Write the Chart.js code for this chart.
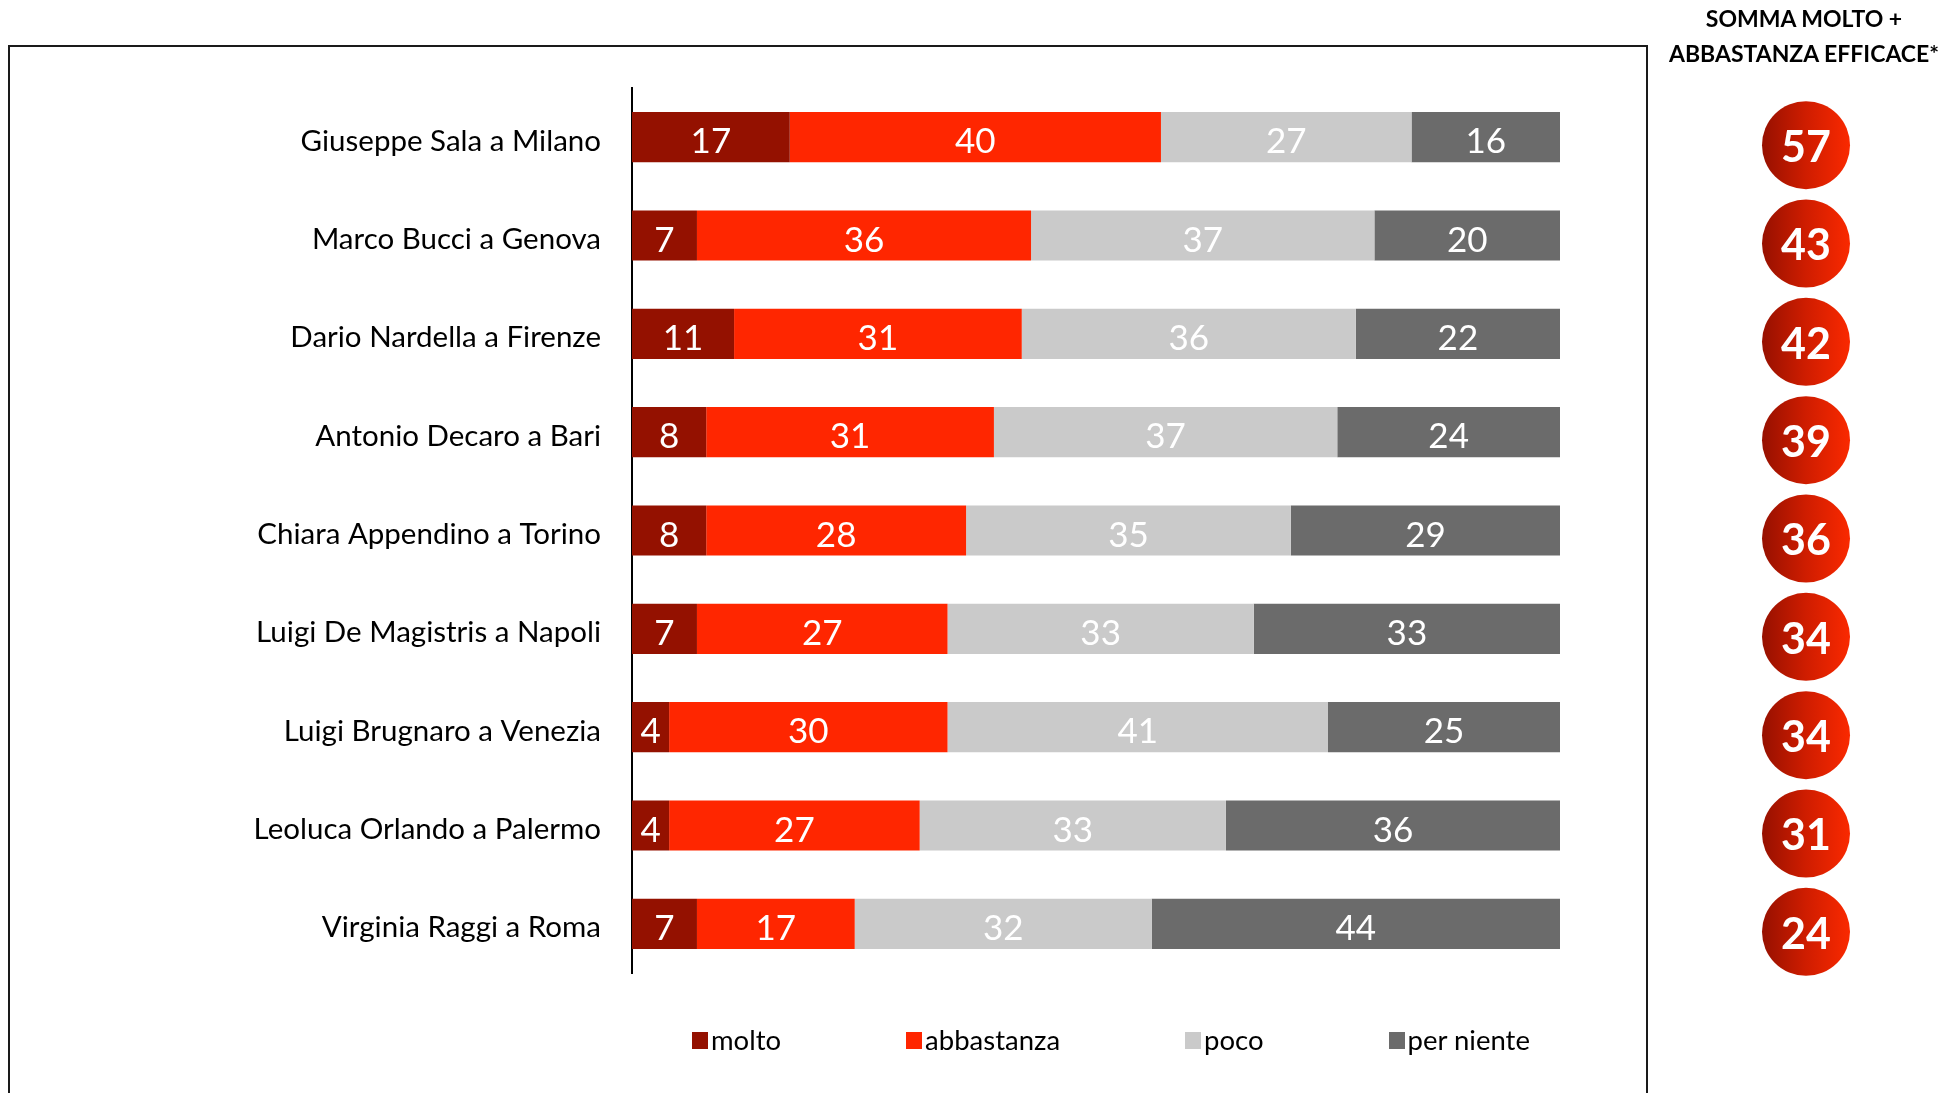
<!DOCTYPE html>
<html lang="it">
<head>
<meta charset="utf-8">
<title>Efficacia dei sindaci</title>
<script src="https://cdn.jsdelivr.net/npm/chart.js@4.4.1/dist/chart.umd.min.js"></script>
<style>
  html, body { margin: 0; padding: 0; background: #fff; }
  body { width: 1951px; height: 1093px; position: relative; overflow: hidden; font-family: Lato, "Open Sans", sans-serif; }
  #frame { position: absolute; left: 8px; top: 45px; width: 1636px; height: 1100px; border: 2px solid #1a1a1a; }
  #wrap { position: absolute; left: 0; top: 0; width: 1951px; height: 1093px; }
  #title { position: absolute; left: 1654px; width: 300px; top: 1px; text-align: center; font-weight: 700; font-size: 23px; line-height: 35px; color: #000; }
  #legend { position: absolute; left: 692px; top: 1022px; display: flex; gap: 125px; font-size: 27.5px; line-height: 36px; color: #000; }
  #legend .item { display: flex; align-items: center; }
  #legend .sw { width: 16px; height: 17px; margin-right: 3px; }
</style>
</head>
<body>
<div id="frame"></div>
<div id="wrap"><canvas id="chart"></canvas></div>
<div id="title">SOMMA MOLTO +<br>ABBASTANZA EFFICACE*</div>
<div id="legend"></div>

<script>
const categories = [
    'Giuseppe Sala a Milano',
    'Marco Bucci a Genova',
    'Dario Nardella a Firenze',
    'Antonio Decaro a Bari',
    'Chiara Appendino a Torino',
    'Luigi De Magistris a Napoli',
    'Luigi Brugnaro a Venezia',
    'Leoluca Orlando a Palermo',
    'Virginia Raggi a Roma'
];
const molto      = [17, 7, 11, 8, 8, 7, 4, 4, 7];
const abbastanza = [40, 36, 31, 31, 28, 27, 30, 27, 17];
const poco       = [27, 37, 36, 37, 35, 33, 41, 33, 32];
const perNiente  = [16, 20, 22, 24, 29, 33, 25, 36, 44];

const seriesNames  = ['molto', 'abbastanza', 'poco', 'per niente'];
const seriesColors = ['#941100', '#ff2600', '#cacaca', '#6b6b6b'];

// molto + abbastanza, shown in the red badges on the right
const efficaci = molto.map((v, i) => v + abbastanza[i]);

const FONT = 'Lato, "Open Sans", sans-serif';

// White value labels centred in each segment
const segmentLabels = {
    id: 'segmentLabels',
    afterDatasetsDraw(chart) {
        const ctx = chart.ctx;
        ctx.save();
        ctx.font = '35px ' + FONT;
        ctx.fillStyle = '#fff';
        ctx.textAlign = 'center';
        ctx.textBaseline = 'middle';
        chart.data.datasets.forEach((ds, di) => {
            chart.getDatasetMeta(di).data.forEach((bar, i) => {
                const cx = (bar.x + bar.base) / 2;
                ctx.fillText(ds.data[i], cx, bar.y + 5);
            });
        });
        ctx.restore();
    }
};

// Red gradient circles with the sum for each row
const sumBadges = {
    id: 'sumBadges',
    afterDraw(chart) {
        const ctx = chart.ctx;
        const yScale = chart.scales.y;
        const cx = chart.chartArea.right + 246;
        const r = 44;
        ctx.save();
        efficaci.forEach((val, i) => {
            const cy = yScale.getPixelForValue(i) + 8;
            const grad = ctx.createLinearGradient(cx - r, 0, cx + r, 0);
            grad.addColorStop(0, '#961000');
            grad.addColorStop(0.5, '#cf1d00');
            grad.addColorStop(1, '#fa2900');
            ctx.beginPath();
            ctx.arc(cx, cy, r, 0, Math.PI * 2);
            ctx.fillStyle = grad;
            ctx.fill();
            ctx.font = 'bold 43px ' + FONT;
            ctx.fillStyle = '#fff';
            ctx.textAlign = 'center';
            ctx.textBaseline = 'middle';
            ctx.fillText(val, cx, cy + 3);
        });
        ctx.restore();
    }
};

const seriesData = [molto, abbastanza, poco, perNiente];

new Chart(document.getElementById('chart'), {
    type: 'bar',
    data: {
        labels: categories,
        datasets: seriesNames.map((name, i) => ({
            label: name,
            data: seriesData[i],
            backgroundColor: seriesColors[i],
            borderWidth: 0,
            barPercentage: 0.51,
            categoryPercentage: 1
        }))
    },
    options: {
        indexAxis: 'y',
        responsive: true,
        maintainAspectRatio: false,
        animation: false,
        layout: { padding: { top: 88, bottom: 120, left: 0, right: 391 } },
        plugins: {
            legend: { display: false },
            tooltip: { enabled: false }
        },
        scales: {
            x: { stacked: true, min: 0, max: 100, display: false },
            y: {
                stacked: true,
                afterFit(scale) { scale.width = 632; },
                grid: { color: 'transparent', drawTicks: false },
                border: { display: true, color: '#000', width: 2 },
                ticks: { color: '#000', padding: 31, labelOffset: 4, font: { family: FONT, size: 29.5 } }
            }
        }
    },
    plugins: [segmentLabels, sumBadges]
});

// Legend below the plot
const legend = document.getElementById('legend');
seriesNames.forEach((name, i) => {
    const item = document.createElement('div');
    item.className = 'item';
    item.innerHTML = `<span class="sw" style="background:${seriesColors[i]}"></span><span>${name}</span>`;
    legend.appendChild(item);
});
</script>
</body>
</html>
